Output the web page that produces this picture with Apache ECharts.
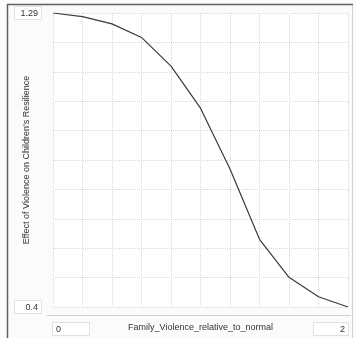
<!DOCTYPE html>
<html><head><meta charset="utf-8">
<script src="https://cdn.jsdelivr.net/npm/echarts@6/dist/echarts.min.js"></script>
<style>html,body{margin:0;padding:0;background:#fff}#c{width:356px;height:338px}</style>
</head><body><div id="c"></div>
<script>
const xValues = [0, 0.2, 0.4, 0.6, 0.8, 1.0, 1.2, 1.4, 1.6, 1.8, 2.0];
const yValues = [1.29, 1.279, 1.257, 1.216, 1.129, 1.002, 0.818, 0.605, 0.49, 0.431, 0.40];
const xMin = 0, xMax = 2, xStep = 0.2;
const yMin = 0.4, yMax = 1.29, yStep = 0.089;
const xTitle = 'Family_Violence_relative_to_normal';
const yTitle = "Effect of Violence on Children's Resilience";

const FONT = 'Liberation Sans';
const chart = echarts.init(document.getElementById('c'), null, {renderer: 'canvas'});
const near = (a, b) => Math.abs(a - b) < 1e-6;
const boxStyle = {fontSize: 9, color: '#333', fontFamily: FONT, backgroundColor: '#fff',
  borderColor: '#e2e2e2', borderWidth: 1};
chart.setOption({
  animation: false,
  backgroundColor: '#fbfbfb',
  textStyle: {fontFamily: FONT},
  grid: {left: 53, right: 8, top: 13, bottom: 31, containLabel: false, outerBoundsMode: 'none',
    show: true, backgroundColor: '#ffffff', borderWidth: 0},
  xAxis: {
    type: 'value', min: xMin, max: xMax, interval: xStep,
    name: xTitle, nameLocation: 'middle', nameGap: 16, nameMoveOverlap: false,
    nameTextStyle: {fontFamily: FONT, fontSize: 9, color: '#333', verticalAlign: 'top'},
    axisLine: {show: false}, axisTick: {show: false},
    splitLine: {show: true, lineStyle: {color: '#d9d9d9', type: 'dotted', width: 1}},
    axisLabel: {
      margin: 16, fontFamily: FONT,
      alignMinLabel: 'left', alignMaxLabel: 'right',
      formatter: v => near(v, xMin) ? '{l|' + v + '}' : (near(v, xMax) ? '{r|' + v + '}' : ''),
      rich: {
        l: Object.assign({}, boxStyle, {width: 30, align: 'left', padding: [2, 3, 1, 3]}),
        r: Object.assign({}, boxStyle, {width: 28, align: 'right', padding: [2, 3, 1, 3]})
      }
    }
  },
  yAxis: {
    type: 'value', min: yMin, max: yMax, interval: yStep,
    name: yTitle, nameLocation: 'middle', nameGap: 22, nameRotate: 90, nameMoveOverlap: false,
    nameTextStyle: {fontFamily: FONT, fontSize: 9, color: '#333'},
    axisLine: {show: false}, axisTick: {show: false},
    splitLine: {show: true, lineStyle: {color: '#d9d9d9', type: 'dotted', width: 1}},
    axisLabel: {
      margin: 12, fontFamily: FONT, align: 'right',
      formatter: v => near(v, yMin) ? '{b|0.4}' : (near(v, yMax) ? '{b|1.29}' : ''),
      rich: {b: Object.assign({}, boxStyle, {width: 20, align: 'right', padding: [2, 3, 1, 3]})}
    }
  },
  series: [{
    type: 'line', data: xValues.map((x, i) => [x, yValues[i]]),
    showSymbol: false, lineStyle: {color: '#3a3a3a', width: 1.2}
  }],
  graphic: [
    {type: 'line', shape: {x1: 47, y1: 315.5, x2: 351, y2: 315.5}, style: {stroke: '#cfcfcf', lineWidth: 1}, z: 10},
    {type: 'line', shape: {x1: 352.5, y1: 4, x2: 352.5, y2: 338}, style: {stroke: '#d0d0d0', lineWidth: 1}, z: 10},
    {type: 'line', shape: {x1: 7, y1: 4.5, x2: 353, y2: 4.5}, style: {stroke: '#606060', lineWidth: 1.5}, z: 10},
    {type: 'line', shape: {x1: 7.5, y1: 4, x2: 7.5, y2: 338}, style: {stroke: '#606060', lineWidth: 1.5}, z: 10}
  ]
});
</script></body></html>
